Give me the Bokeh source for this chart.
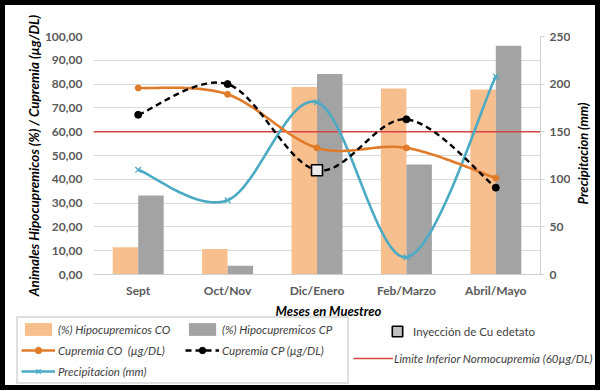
import math
import numpy as np
from bokeh.plotting import figure
from bokeh.layouts import column, row
from bokeh.models import (ColumnDataSource, Range1d, LinearAxis, FixedTicker,
                          Legend, LegendItem, Label)
from bokeh.embed import file_html
from bokeh.resources import INLINE

# ---------------- data ----------------
CATS = ["Sept", "Oct/Nov", "Dic/Enero", "Feb/Marzo", "Abril/Mayo"]
HIPO_CO = [11.4, 10.7, 78.8, 78.2, 77.7]      # (%) Hipocupremicos CO
HIPO_CP = [33.2, 3.7, 84.2, 46.2, 96.1]       # (%) Hipocupremicos CP
CUP_CO = [78.4, 75.7, 53.2, 53.2, 40.5]       # Cupremia CO (µg/DL)
CUP_CP = [67.1, 80.0, 43.8, 65.2, 36.5]       # Cupremia CP (µg/DL)
PRECIP = [110, 78, 181, 18, 208]              # Precipitacion (mm)
INJ_IDX = 2                                   # Inyección de Cu edetato (Dic/Enero)
LIMIT = 60                                    # Limite Inferior Normocupremia
LEFT_TICKS = list(range(0, 101, 10))
RIGHT_TICKS = list(range(0, 251, 50))

# ---------------- styling ----------------
FONT = "Lato"
C_ORANGE_BAR = "#F8BF8E"
C_GRAY_BAR = "#A3A3A3"
C_CO = "#E07B2A"
C_PRE = "#4BAAC4"
C_RED = "#D4463F"
TXT = "#595959"
BORDER = "5px solid black"

n = len(CATS)
xc = np.arange(n) + 0.5
BW = 0.285


def smooth(xs, ys, steps=24):
    """Excel-like smoothed line (Catmull-Rom as cubic Bezier)."""
    P = np.column_stack([xs, ys]).astype(float)
    ext = np.vstack([P[0], P, P[-1]])
    out = []
    t = np.linspace(0, 1, steps)[:, None]
    for i in range(len(P) - 1):
        p0, p1, p2, p3 = ext[i], ext[i + 1], ext[i + 2], ext[i + 3]
        c1 = p1 + (p2 - p0) / 6.0
        c2 = p2 - (p3 - p1) / 6.0
        seg = ((1 - t) ** 3) * p1 + 3 * ((1 - t) ** 2) * t * c1 + 3 * (1 - t) * t ** 2 * c2 + t ** 3 * p2
        out.append(seg if i == 0 else seg[1:])
    s = np.vstack(out)
    return s[:, 0], s[:, 1]


def add_series(fig, visible=True, inj_fill="#EDEDED"):
    """Draw all series on fig; returns renderers (used for the legends)."""
    r = {}
    src = ColumnDataSource(dict(xo=xc - BW / 2, xp=xc + BW / 2, co=HIPO_CO, cp=HIPO_CP))
    r["bco"] = fig.vbar(x="xo", top="co", width=BW, bottom=0, source=src,
                        fill_color=C_ORANGE_BAR, line_color=None)
    r["bcp"] = fig.vbar(x="xp", top="cp", width=BW, bottom=0, source=src,
                        fill_color=C_GRAY_BAR, line_color=None)
    r["lim"] = fig.line(x=[0, n], y=[LIMIT, LIMIT], line_color=C_RED, line_width=1.6)
    sx, sy = smooth(xc, PRECIP)
    r["pl"] = fig.line(sx, sy, y_range_name="precip", line_color=C_PRE, line_width=2.6)
    r["pm"] = fig.scatter(xc, PRECIP, y_range_name="precip", marker="x", size=8,
                          line_color=C_PRE, line_width=1.3)
    sx, sy = smooth(xc, CUP_CO)
    r["col"] = fig.line(sx, sy, line_color=C_CO, line_width=2.6)
    r["com"] = fig.scatter(xc, CUP_CO, marker="circle", size=6, fill_color=C_CO, line_color=C_CO)
    sx, sy = smooth(xc, CUP_CP)
    r["cpl"] = fig.line(sx, sy, line_color="black", line_width=2.4, line_dash="6 4")
    mask = np.arange(n) != INJ_IDX
    r["cpm"] = fig.scatter(xc[mask], np.array(CUP_CP)[mask], marker="circle", size=7,
                           fill_color="black", line_color="black")
    r["inj"] = fig.scatter([xc[INJ_IDX]], [CUP_CP[INJ_IDX]], marker="square", size=11,
                           fill_color=inj_fill, line_color="black", line_width=1.6)
    if not visible:
        for v in r.values():
            v.visible = False
    return r


def style_text(obj, prefix, size="12px", style="bold", color=TXT):
    setattr(obj, prefix + "_text_font", FONT)
    setattr(obj, prefix + "_text_font_style", style)
    setattr(obj, prefix + "_text_font_size", size)
    setattr(obj, prefix + "_text_color", color)


def blank(fig):
    fig.frame_align = False
    fig.outline_line_color = None
    fig.xgrid.visible = False
    fig.ygrid.visible = False
    fig.background_fill_color = "white"
    fig.border_fill_color = "white"


# ================= main chart =================
p = figure(width=570, height=299, x_range=Range1d(0, n), y_range=Range1d(0, 100),
           output_backend="svg", toolbar_location=None,
           min_border_left=88, min_border_right=35, min_border_top=31, min_border_bottom=30)
p.frame_align = False
p.styles = {"border-top": BORDER, "border-left": BORDER}
p.outline_line_color = None
p.background_fill_color = "white"
p.border_fill_color = "white"
p.extra_y_ranges = {"precip": Range1d(0, 250)}

p.xgrid.grid_line_color = None
p.ygrid.grid_line_color = "#D9D9D9"
p.ygrid.ticker = FixedTicker(ticks=LEFT_TICKS)

# x axis
p.xaxis.ticker = FixedTicker(ticks=list(xc))
p.xaxis.major_label_overrides = {float(x): c for x, c in zip(xc, CATS)}
p.xaxis.major_tick_line_color = None
p.xaxis.major_tick_out = 0
p.xaxis.major_tick_in = 0
p.xaxis.minor_tick_line_color = None
p.xaxis.axis_line_color = "#D0D0D0"
style_text(p.xaxis, "major_label")
p.xaxis.major_label_standoff = 8

# left axis
p.yaxis.ticker = FixedTicker(ticks=LEFT_TICKS)
p.yaxis.major_label_overrides = {v: f"{v:.2f}".replace(".", ",") for v in LEFT_TICKS}
p.yaxis.axis_line_color = None
p.yaxis.major_tick_line_color = None
p.yaxis.major_tick_out = 0
p.yaxis.minor_tick_line_color = None
style_text(p.yaxis, "major_label")
p.yaxis.major_label_standoff = 11
p.yaxis.axis_label = "Animales Hipocupremicos (%) / Cupremia (µg/DL)"
style_text(p.yaxis, "axis_label", "13.5px", "bold italic", "black")
p.yaxis.axis_label_standoff = 0

# right axis
ra = LinearAxis(y_range_name="precip", ticker=FixedTicker(ticks=RIGHT_TICKS))
ra.axis_line_color = "#D0D0D0"
ra.major_tick_line_color = "#D0D0D0"
ra.major_tick_out = 4
ra.major_tick_in = 0
ra.minor_tick_line_color = None
style_text(ra, "major_label")
ra.major_label_standoff = 5
p.add_layout(ra, "right")

add_series(p)

# ================= right title strip =================
r = figure(width=30, height=299, x_range=Range1d(0, 1), y_range=Range1d(0, 1),
           output_backend="svg", toolbar_location=None,
           x_axis_type=None, y_axis_type=None, min_border=0)
blank(r)
r.styles = {"border-top": BORDER, "border-right": BORDER}
r.add_layout(Label(x=12, y=151, x_units="screen", y_units="screen",
                   text="Precipitacion (mm)", angle=math.pi / 2,
                   text_align="center", text_baseline="middle",
                   text_font=FONT, text_font_style="bold italic",
                   text_font_size="13px", text_color="black"))

# ================= bottom strip: axis title + legends =================
q = figure(width=600, height=91, x_range=Range1d(0, n), y_range=Range1d(1000, 1001),
           output_backend="svg", toolbar_location=None,
           x_axis_type=None, y_axis_type=None, min_border=0)
blank(q)
q.extra_y_ranges = {"precip": Range1d(1000, 1001)}
q.styles = {"border-bottom": BORDER, "border-left": BORDER, "border-right": BORDER}

q.add_layout(Label(x=323, y=80, x_units="screen", y_units="screen",
                   text="Meses en Muestreo", text_align="center", text_baseline="middle",
                   text_font=FONT, text_font_style="bold italic",
                   text_font_size="13px", text_color="black"))

g = add_series(q, visible=False, inj_fill="#BFBFBF")


def base_legend(items, loc, **kw):
    lg = Legend(items=items, location=loc, **kw)
    lg.inactive_fill_alpha = 0
    lg.margin = 0
    lg.label_text_font = FONT
    lg.label_text_font_size = "11.5px"
    lg.label_text_color = "#404040"
    lg.label_text_font_style = "italic"
    return lg


leg = base_legend([
    LegendItem(label="(%) Hipocupremicos CO", renderers=[g["bco"]]),
    LegendItem(label="(%) Hipocupremicos CP", renderers=[g["bcp"]]),
    LegendItem(label="Cupremia CO  (µg/DL)", renderers=[g["col"], g["com"]]),
    LegendItem(label="Cupremia CP (µg/DL)", renderers=[g["cpl"], g["cpm"]]),
    LegendItem(label="Precipitacion (mm)", renderers=[g["pl"], g["pm"]]),
], (11, 6), orientation="horizontal", ncols=2)
leg.border_line_color = "#BFBFBF"
leg.border_line_width = 2
leg.background_fill_alpha = 1
leg.padding = 3
leg.spacing = 5
leg.glyph_width = 34
leg.glyph_height = 16
leg.label_height = 16
leg.label_width = 122
leg.label_standoff = 3
q.add_layout(leg, "center")

leg2 = base_legend([LegendItem(label="Inyección de Cu edetato", renderers=[g["inj"]])], (379, 46))
leg2.border_line_color = None
leg2.background_fill_alpha = 0
leg2.padding = 0
leg2.glyph_width = 26
leg2.glyph_height = 26
leg2.label_height = 26
leg2.label_standoff = 3
leg2.label_text_font_style = "normal"
q.add_layout(leg2, "center")

leg3 = base_legend([LegendItem(label="Limite Inferior Normocupremia (60µg/DL)", renderers=[g["lim"]])], (348, 25))
leg3.border_line_color = None
leg3.background_fill_alpha = 0
leg3.padding = 0
leg3.glyph_width = 40
leg3.glyph_height = 14
leg3.label_height = 14
leg3.label_standoff = 1
q.add_layout(leg3, "center")

layout = column(row(p, r, spacing=0), q, spacing=0)
open("out.html", "w").write(file_html(layout, INLINE))
